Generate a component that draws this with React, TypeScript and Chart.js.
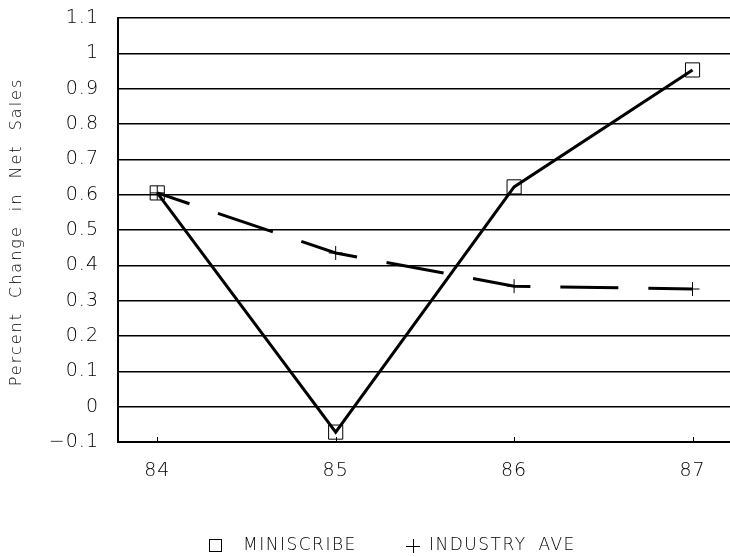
import React, { useEffect, useRef } from 'react';
import { Chart, registerables } from 'chart.js';

Chart.register(...registerables);

const years = [84, 85, 86, 87];
const miniscribe = [0.605, -0.072, 0.622, 0.953];
const industryAve = [0.605, 0.435, 0.341, 0.333];
const yTickValues = [-0.1, 0, 0.1, 0.2, 0.3, 0.4, 0.5, 0.6, 0.7, 0.8, 0.9, 1.0, 1.1];
const yTickLabels = ['\u22120.1', '0', '0.1', '0.2', '0.3', '0.4', '0.5', '0.6', '0.7', '0.8', '0.9', '1', '1.1'];
const xTickLabels = ['84', '85', '86', '87'];
const seriesNames = ['MINISCRIBE', 'INDUSTRY AVE'];
const yTitle = 'Percent Change in Net Sales';

const FONT = '"DejaVu Sans", "Liberation Sans", sans-serif';
const INK = '#000';

const spacingPlugin = {
  id: 'spacing',
  beforeDraw(chart: any) {
    (chart.ctx as any).letterSpacing = '1px';
  },
};

const decorPlugin = {
  id: 'decor',
  afterDraw(chart: any) {
    const ctx = chart.ctx as any;
    const xs = chart.scales.x;
    const area = chart.chartArea;
    ctx.save();
    // inward tick marks on x axis
    ctx.strokeStyle = '#000';
    ctx.lineWidth = 1;
    years.forEach((yr) => {
      const px = Math.round(xs.getPixelForValue(yr)) + 0.5;
      ctx.beginPath();
      ctx.moveTo(px, area.bottom);
      ctx.lineTo(px, area.bottom - 5);
      ctx.stroke();
    });
    // y axis title
    ctx.fillStyle = INK;
    ctx.font = `200 16px ${FONT}`;
    ctx.letterSpacing = '2px';
    ctx.wordSpacing = '7px';
    ctx.textAlign = 'center';
    ctx.textBaseline = 'middle';
    ctx.translate(17, (area.top + area.bottom) / 2 + 2);
    ctx.rotate(-Math.PI / 2);
    ctx.fillText(yTitle, 0, 0);
    ctx.restore();

    // legend
    ctx.save();
    ctx.fillStyle = INK;
    ctx.strokeStyle = '#000';
    ctx.lineWidth = 1;
    ctx.font = `200 17px ${FONT}`;
    ctx.letterSpacing = '1.5px';
    ctx.wordSpacing = '5px';
    ctx.textAlign = 'left';
    ctx.textBaseline = 'middle';
    const ly = 546;
    ctx.strokeRect(209.5, ly - 6.5, 12, 12);
    ctx.fillText(seriesNames[0], 243, ly);
    ctx.beginPath();
    ctx.moveTo(406, ly + 0.5);
    ctx.lineTo(420, ly + 0.5);
    ctx.moveTo(413.5, ly - 7);
    ctx.lineTo(413.5, ly + 7);
    ctx.stroke();
    ctx.fillText(seriesNames[1], 429, ly);
    ctx.restore();
  },
};

export default function App() {
  const canvasRef = useRef<HTMLCanvasElement | null>(null);

  useEffect(() => {
    if (!canvasRef.current) return;
    const chart = new Chart(canvasRef.current, {
      type: 'line',
      data: {
        datasets: [
          {
            label: seriesNames[0],
            data: years.map((x, i) => ({ x, y: miniscribe[i] })),
            borderColor: '#000',
            borderWidth: 3,
            tension: 0,
            pointStyle: 'rect',
            pointRadius: 10,
            pointBorderWidth: 1,
            pointBorderColor: '#000',
            pointBackgroundColor: 'rgba(0,0,0,0)',
          },
          {
            label: seriesNames[1],
            data: years.map((x, i) => ({ x, y: industryAve[i] })),
            borderColor: '#000',
            borderWidth: 3,
            borderDash: [58, 30],
            borderDashOffset: 24,
            tension: 0,
            pointStyle: 'cross',
            pointRadius: 7,
            pointBorderWidth: 1,
            pointBorderColor: '#000',
            pointBackgroundColor: 'rgba(0,0,0,0)',
          },
        ],
      },
      options: {
        animation: false,
        responsive: false,
        maintainAspectRatio: false,
        layout: { autoPadding: false, padding: { left: 0, top: 18, right: 0, bottom: 75 } },
        plugins: {
          legend: { display: false },
          tooltip: { enabled: false },
        },
        scales: {
          x: {
            type: 'linear',
            min: 83.78,
            max: 87.21,
            afterBuildTicks: (scale: any) => {
              scale.ticks = years.map((v) => ({ value: v }));
            },
            afterFit: (scale: any) => {
              scale.height = 40;
              scale.paddingRight = 0;
              scale.paddingLeft = 0;
            },
            ticks: {
              padding: 18,
              color: INK,
              font: { family: FONT, size: 19, weight: 200 },
              callback: (_v: any, i: number) => xTickLabels[i],
              maxRotation: 0,
            },
            grid: { display: false, drawTicks: false },
            border: { display: true, color: '#000', width: 2 },
          },
          y: {
            type: 'linear',
            min: -0.1,
            max: 1.1,
            afterBuildTicks: (scale: any) => {
              scale.ticks = yTickValues.map((v) => ({ value: v }));
            },
            afterFit: (scale: any) => {
              scale.width = 118;
              scale.paddingTop = 0;
              scale.paddingBottom = 0;
            },
            ticks: {
              padding: 19,
              color: INK,
              font: { family: FONT, size: 19, weight: 200 },
              callback: (_v: any, i: number) => yTickLabels[i],
            },
            grid: { color: '#000', lineWidth: 1.5, drawTicks: false },
            border: { display: true, color: '#000', width: 2 },
          },
        },
      },
      plugins: [spacingPlugin, decorPlugin],
    });
    return () => chart.destroy();
  }, []);

  return (
    <div style={{ position: 'absolute', left: 0, top: 0, width: 730, height: 557, background: '#fff' }}>
      <canvas ref={canvasRef} width={730} height={557} style={{ width: 730, height: 557 }} />
    </div>
  );
}
